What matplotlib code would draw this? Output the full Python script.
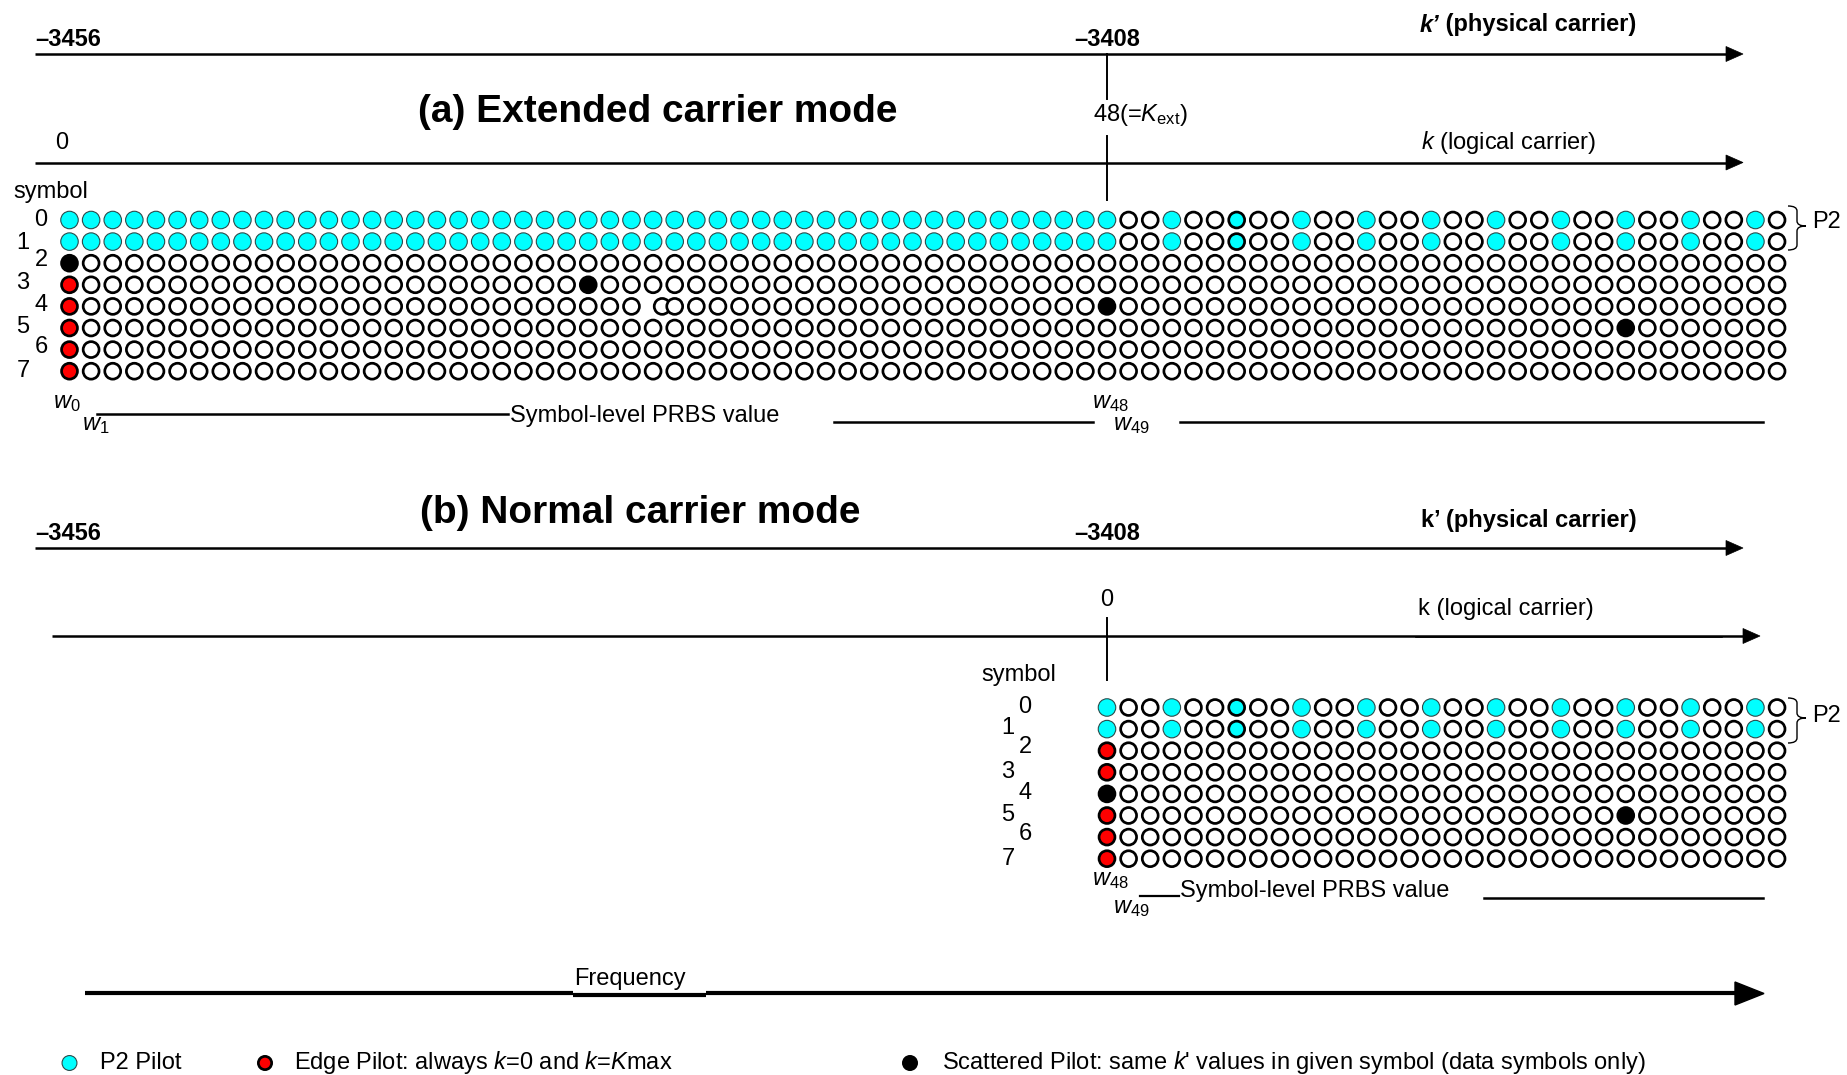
import matplotlib
matplotlib.use('Agg')
import matplotlib.pyplot as plt
from matplotlib.patches import Ellipse, Polygon
from matplotlib.path import Path
from matplotlib.patches import PathPatch

plt.rcParams['font.family'] = ['Liberation Sans', 'DejaVu Sans']
plt.rcParams['mathtext.fontset'] = 'custom'
plt.rcParams['mathtext.rm'] = 'Liberation Sans'
plt.rcParams['mathtext.it'] = 'Liberation Sans:italic'
plt.rcParams['mathtext.bf'] = 'Liberation Sans:bold'

# ---------------- data ----------------
symbols = [0, 1, 2, 3, 4, 5, 6, 7]
symbol_labels = ['0', '1', '2', '3', '4', '5', '6', '7']
n_carriers_ext = 80          # logical carriers k = 0..79 shown (extended mode)
n_carriers_norm = 32         # logical carriers k = 0..31 shown (normal mode)
k_ext = 48                   # K_ext
phys_labels = ['\u20133456', '\u20133408']

p2_symbols = [0, 1]
ext_p2_cols = list(range(0, 49)) + [51, 54, 57, 60, 63, 66, 69, 72, 75, 78]
ext_p2_bold_cols = [54]
norm_p2_cols = [0, 3, 6, 9, 12, 15, 18, 21, 24, 27, 30]
norm_p2_bold_cols = [6]

ext_edge = [(3, 0), (4, 0), (5, 0), (6, 0), (7, 0)]
ext_scattered = [(2, 0), (3, 24), (4, 48), (5, 72)]
norm_edge = [(2, 0), (3, 0), (5, 0), (6, 0), (7, 0)]
norm_scattered = [(4, 0), (5, 24)]
ext_displaced = {(4, 27): 0.42}   # one carrier drawn slightly off-grid in the original

legend_items = [
    ('p2', 'P2 Pilot'),
    ('edge', r'Edge Pilot: always $k$=0 and $k$=$K$max'),
    ('sp', r"Scattered Pilot: same $k$' values in given symbol (data symbols only)"),
]

# ---------------- layout ----------------
W, H = 1847, 1075
fig = plt.figure(figsize=(W / 100, H / 100), dpi=100)
ax = fig.add_axes([0, 0, 1, 1])
ax.set_xlim(0, W)
ax.set_ylim(H, 0)
ax.axis('off')

X0 = 69.5
DX = (1107 - 69.5) / 48
DY = 21.6
TOP_Y0 = 220
BOT_Y0 = 707.5
BOT_X0 = X0 + k_ext * DX
FS = 17
D_OUT = 18.6

styles = {
    'data': dict(fc='white', ec='black', lw=1.95),
    'p2': dict(fc='#00FFFF', ec='#2B4B4B', lw=0.8),
    'p2b': dict(fc='#00FFFF', ec='black', lw=1.95),
    'edge': dict(fc='#FF0000', ec='black', lw=1.95),
    'sp': dict(fc='black', ec='black', lw=1.95),
}


def circle(x, y, kind, d=D_OUT):
    st = styles[kind]
    dd = d - st['lw'] * 100 / 72
    ax.add_patch(Ellipse((x, y), dd, dd, facecolor=st['fc'], edgecolor=st['ec'],
                         linewidth=st['lw'], zorder=3))


def grid(x0, y0, ncols, p2cols, p2bold, edge, sp, displaced):
    cells = {}
    for r in symbols:
        for c in range(ncols):
            cells[(r, c)] = 'data'
    for r in p2_symbols:
        for c in p2cols:
            cells[(r, c)] = 'p2b' if c in p2bold else 'p2'
    for rc in edge:
        cells[rc] = 'edge'
    for rc in sp:
        cells[rc] = 'sp'
    for (r, c), kind in cells.items():
        shift = displaced.get((r, c), 0.0)
        circle(x0 + (c + shift) * DX, y0 + r * DY, kind)


def arrow_line(x1, x2, y, lw=1.8, head_len=17, head_w=15):
    ax.plot([x1, x2 - head_len + 2], [y, y], color='black', lw=lw, solid_capstyle='butt', zorder=2)
    ax.add_patch(Polygon([[x2 - head_len, y - head_w / 2], [x2, y], [x2 - head_len, y + head_w / 2]],
                         closed=True, fc='black', ec='black', lw=0.5, zorder=2))


def brace(x_left, y_top, y_bot, y_tip, w=18):
    xs = x_left + w / 2
    xt = x_left + w
    r = 5
    verts = [(x_left, y_top), (xs, y_top), (xs, y_top + r),
             (xs, y_tip - r), (xs, y_tip), (xt, y_tip),
             (xt, y_tip), (xs, y_tip), (xs, y_tip + r),
             (xs, y_bot - r), (xs, y_bot), (x_left, y_bot)]
    codes = [Path.MOVETO, Path.CURVE3, Path.CURVE3,
             Path.LINETO, Path.CURVE3, Path.CURVE3,
             Path.MOVETO, Path.CURVE3, Path.CURVE3,
             Path.LINETO, Path.CURVE3, Path.CURVE3]
    ax.add_patch(PathPatch(Path(verts, codes), fc='none', ec='black', lw=1.0, zorder=2))


def txt(x, y, s, **kw):
    kw.setdefault('fontsize', FS)
    kw.setdefault('va', 'center')
    ax.text(x, y, s, **kw)


# ---------------- (a) Extended carrier mode ----------------
txt(35, 40, phys_labels[0], fontweight='bold', ha='left')
txt(1107, 40, phys_labels[1], fontweight='bold', ha='center')
txt(1439, 25, 'k\u2019', fontweight='bold', style='italic', ha='right')
txt(1439, 25, ' (physical carrier)', fontweight='bold', ha='left')
arrow_line(35, 1743, 54)

txt(658, 112, '(a) Extended carrier mode', fontsize=28, fontweight='bold', ha='center')
txt(1093, 115, r'48(=$K_{\mathrm{ext}}$)', ha='left')
ax.plot([1107, 1107], [54, 99], color='black', lw=1.4, zorder=2)
ax.plot([1107, 1107], [136, 200], color='black', lw=1.4, zorder=2)

txt(62, 143, '0', ha='center')
txt(1421, 143, r'$k$ (logical carrier)', ha='left')
arrow_line(35, 1743, 162.5)

txt(13, 192, 'symbol', ha='left')
lab_x = [41, 23]
top_lab_y = [220, 243, 260, 283, 305, 327, 347, 371]
for i, lab in enumerate(symbol_labels):
    txt(lab_x[i % 2], top_lab_y[i], lab, ha='center')

grid(X0, TOP_Y0, n_carriers_ext, ext_p2_cols, ext_p2_bold_cols, ext_edge, ext_scattered, ext_displaced)
brace(1788, 206, 250, 226)
txt(1812, 222, 'P2', ha='left')

txt(53, 403, r'$w_{0}$', ha='left')
txt(82, 425, r'$w_{1}$', ha='left')
ax.plot([97, 508], [414, 414], color='black', lw=1.8)
txt(510, 416, 'Symbol-level PRBS value', ha='left')
ax.plot([834, 1093], [422, 422], color='black', lw=1.8)
txt(1092, 403, r'$w_{48}$', ha='left')
txt(1113, 425, r'$w_{49}$', ha='left')
ax.plot([1180, 1763], [422, 422], color='black', lw=1.8)

# ---------------- (b) Normal carrier mode ----------------
txt(640, 513, '(b) Normal carrier mode', fontsize=28, fontweight='bold', ha='center')
txt(35, 534, phys_labels[0], fontweight='bold', ha='left')
txt(1107, 534, phys_labels[1], fontweight='bold', ha='center')
txt(1421, 520, 'k\u2019 (physical carrier)', fontweight='bold', ha='left')
arrow_line(35, 1743, 548)

txt(1107, 600, '0', ha='center')
txt(1418, 609, 'k (logical carrier)', ha='left')
arrow_line(52, 1760, 636)
ax.plot([1416, 1722], [637], color='black', lw=0) if False else None
ax.plot([1416, 1722], [637.0, 637.0], color='black', lw=1.2, zorder=2)
ax.plot([1107, 1107], [618, 680], color='black', lw=1.4, zorder=2)

txt(981, 675, 'symbol', ha='left')
bot_lab_x = [1025, 1008]
bot_lab_y = [707, 728, 747, 772, 793, 815, 834, 859]
for i, lab in enumerate(symbol_labels):
    txt(bot_lab_x[i % 2], bot_lab_y[i], lab, ha='center')

grid(BOT_X0, BOT_Y0, n_carriers_norm, norm_p2_cols, norm_p2_bold_cols, norm_edge, norm_scattered, {})
brace(1788, 698, 743, 718)
txt(1812, 716, 'P2', ha='left')

txt(1092, 880, r'$w_{48}$', ha='left')
txt(1113, 908, r'$w_{49}$', ha='left')
ax.plot([1140, 1179], [896, 896], color='black', lw=1.6)
txt(1180, 891, 'Symbol-level PRBS value', ha='left')
ax.plot([1484, 1763], [898, 898], color='black', lw=1.8)

# ---------------- Frequency arrow ----------------
ax.plot([85, 573], [993, 993], color='black', lw=3.0, solid_capstyle='butt')
ax.plot([573, 706], [994.5, 994.5], color='black', lw=3.0, solid_capstyle='butt')
ax.plot([706, 1737], [993, 993], color='black', lw=3.0, solid_capstyle='butt')
ax.add_patch(Polygon([[1735, 982], [1764, 993.5], [1735, 1005]], closed=True, fc='black', ec='black'))
txt(630, 979, 'Frequency', ha='center')

# ---------------- legend ----------------
leg_x = [69.5, 265, 910]
leg_tx = [100, 294, 942]
for (kind, label), cx, tx in zip(legend_items, leg_x, leg_tx):
    circle(cx, 1063, kind, d=16)
    txt(tx, 1063, label, ha='left')

fig.savefig('out.png', dpi=100)
